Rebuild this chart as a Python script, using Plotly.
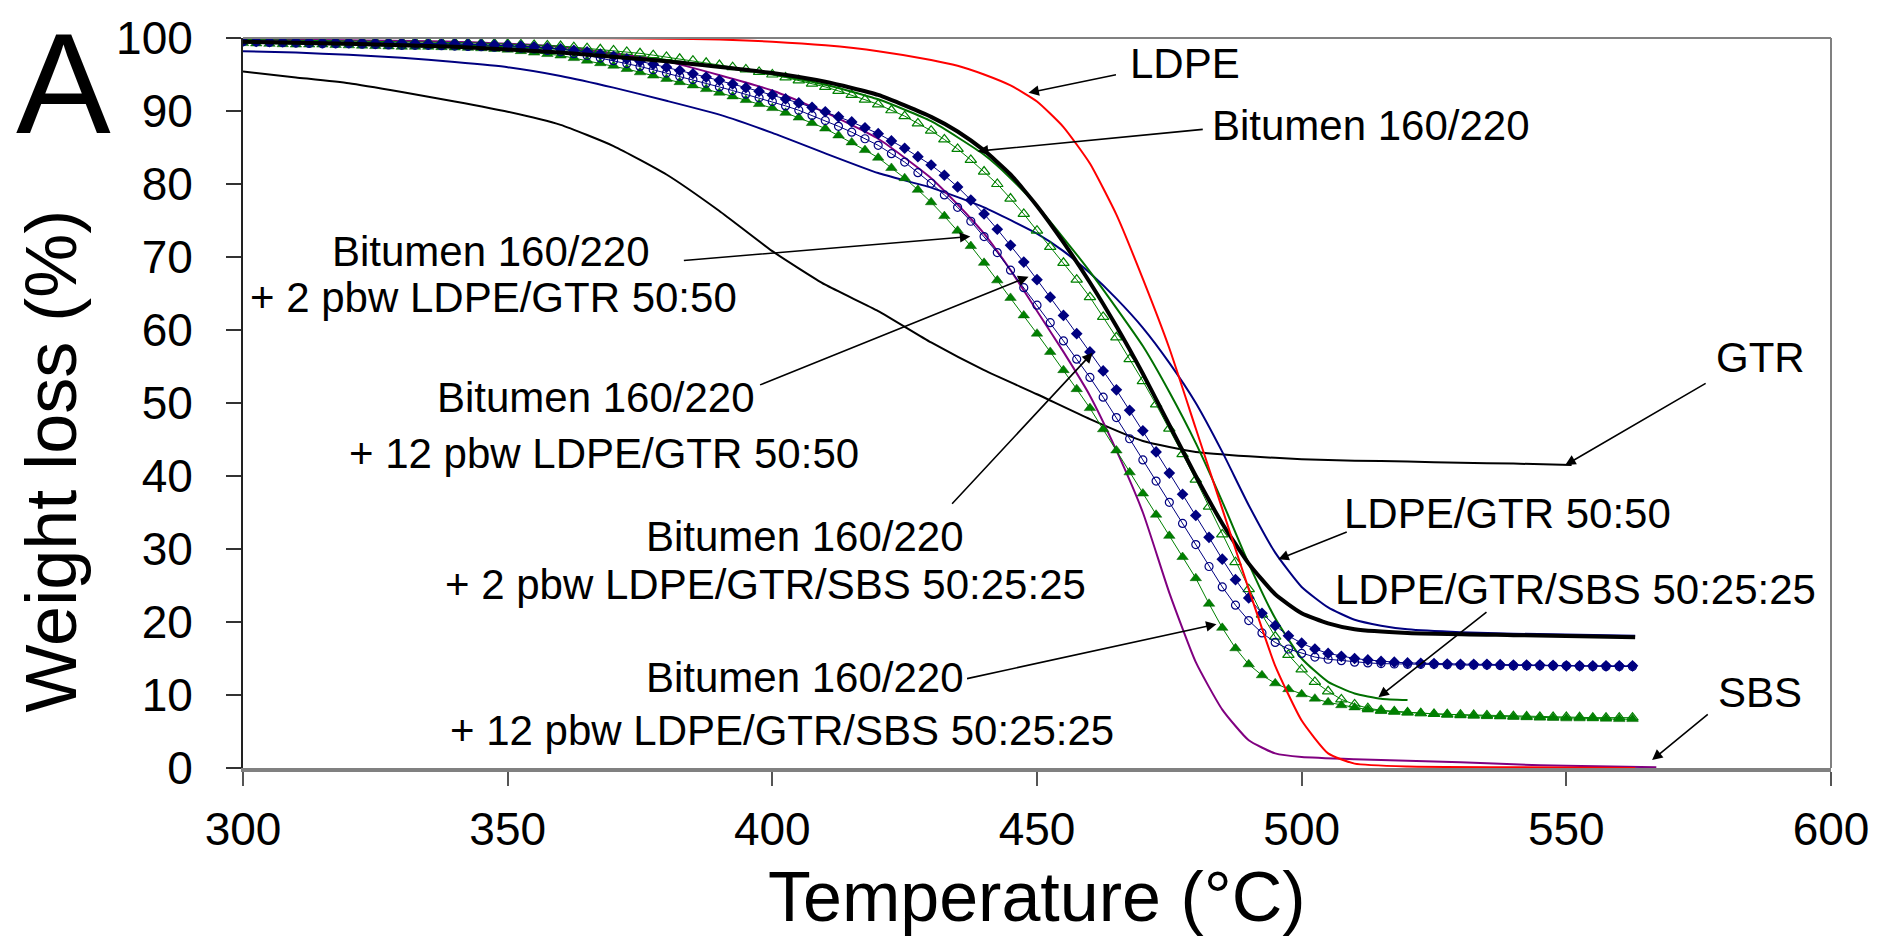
import plotly.graph_objects as go

# ---------------- data ----------------
XM = [300, 302.5, 305, 307.5, 310, 312.5, 315, 317.5, 320, 322.5, 325, 327.5, 330, 332.5, 335, 337.5,
      340, 342.5, 345, 347.5, 350, 352.5, 355, 357.5, 360, 362.5, 365, 367.5, 370, 372.5, 375, 377.5,
      380, 382.5, 385, 387.5, 390, 392.5, 395, 397.5, 400, 402.5, 405, 407.5, 410, 412.5, 415, 417.5,
      420, 422.5, 425, 427.5, 430,
      432.5, 435, 437.5, 440, 442.5, 445, 447.5, 450, 452.5, 455, 457.5, 460, 462.5, 465, 467.5, 470,
      472.5, 475, 477.5, 480, 482.5, 485, 487.5, 490, 492.5, 495, 497.5, 500, 502.5, 505, 507.5, 510,
      512.5, 515,
      517.5, 520, 522.5, 525, 527.5, 530, 532.5, 535, 537.5, 540, 542.5, 545, 547.5, 550, 552.5, 555,
      557.5, 560, 562.5]

bit_2_ldpe_gtr = [99.3, 99.25, 99.2, 99.15, 99.1, 99.1, 99.1, 99.05, 99.0, 98.95, 98.9, 98.85, 98.8, 98.8,
                  98.8, 98.75, 98.7, 98.65, 98.6, 98.5, 98.4, 98.2, 98.0, 97.8, 97.6, 97.25, 96.9, 96.55,
                  96.2, 95.75, 95.3, 94.85, 94.4, 93.95, 93.5, 93.0, 92.5, 92.0, 91.5, 90.95, 90.4, 89.75,
                  89.1, 88.35, 87.6, 86.65, 85.7, 84.65, 83.6, 82.2, 80.8, 79.2, 77.5,
                  75.6, 73.6, 71.5, 69.2, 66.8, 64.4, 62.0, 59.5, 57.0, 54.5, 51.9, 49.3, 46.4, 43.5, 40.5,
                  37.6, 34.7, 31.8, 28.9, 26.0, 22.5, 19.2, 16.4, 14.2, 12.7, 11.6, 10.8, 10.1, 9.5, 9.0,
                  8.6, 8.3, 8.0, 7.8,
                  7.7, 7.6, 7.5, 7.4, 7.3, 7.2, 7.15, 7.1, 7.05, 7.0, 6.95, 6.9, 6.85, 6.8, 6.8, 6.8,
                  6.75, 6.7, 6.7]

bit_12_ldpe_gtr = [99.5, 99.45, 99.4, 99.35, 99.3, 99.25, 99.2, 99.2, 99.2, 99.15, 99.1, 99.05, 99.0, 99.0,
                   99.0, 98.95, 98.9, 98.85, 98.8, 98.75, 98.7, 98.6, 98.5, 98.3, 98.1, 97.85, 97.6, 97.25,
                   96.9, 96.5, 96.1, 95.65, 95.2, 94.75, 94.3, 93.8, 93.3, 92.8, 92.3, 91.8, 91.3, 90.7,
                   90.1, 89.4, 88.7, 87.9, 87.1, 86.2, 85.3, 84.15, 83.0, 81.55, 80.1,
                   78.5, 76.8, 74.9, 72.8, 70.6, 68.2, 65.8, 63.4, 61.0, 58.5, 56.0, 53.5, 50.8, 48.0, 45.1,
                   42.2, 39.3, 36.4, 33.5, 30.6, 27.6, 24.8, 22.3, 20.2, 18.5, 17.2, 16.3, 15.7, 15.2, 14.9,
                   14.7, 14.5, 14.4, 14.3,
                   14.25, 14.2, 14.2, 14.2, 14.15, 14.1, 14.1, 14.1, 14.05, 14.0, 14.0, 14.0, 14.0, 14.0,
                   13.95, 13.9, 13.9, 13.9, 13.9]

bit_2_sbs = [99.6, 99.55, 99.5, 99.5, 99.5, 99.45, 99.4, 99.4, 99.4, 99.35, 99.3, 99.3, 99.3, 99.25, 99.2,
             99.2, 99.2, 99.15, 99.1, 99.05, 99.0, 98.9, 98.8, 98.65, 98.5, 98.3, 98.1, 97.8, 97.5, 97.15,
             96.8, 96.4, 96.0, 95.55, 95.1, 94.65, 94.2, 93.7, 93.2, 92.7, 92.2, 91.65, 91.1, 90.5, 89.9,
             89.2, 88.5, 87.7, 86.9, 85.9, 84.9, 83.75, 82.6,
             81.2, 79.6, 77.8, 75.9, 73.8, 71.6, 69.3, 66.9, 64.5, 62.0, 59.5, 57.0, 54.4, 51.8, 49.0,
             46.2, 43.3, 40.4, 37.5, 34.6, 31.6, 28.6, 25.8, 23.3, 21.2, 19.5, 18.1, 17.1, 16.3, 15.7,
             15.3, 15.0, 14.8, 14.6,
             14.5, 14.4, 14.35, 14.3, 14.25, 14.2, 14.2, 14.2, 14.15, 14.1, 14.1, 14.1, 14.05, 14.0,
             14.0, 14.0, 14.0, 14.0, 14.0]

bit_12_sbs = [99.8, 99.78, 99.75, 99.72, 99.7, 99.68, 99.65, 99.62, 99.6, 99.58, 99.55, 99.52, 99.5, 99.48,
              99.45, 99.42, 99.4, 99.35, 99.3, 99.25, 99.2, 99.12, 99.05, 98.98, 98.9, 98.75, 98.6, 98.45,
              98.3, 98.1, 97.9, 97.65, 97.4, 97.15, 96.9, 96.6, 96.3, 96.0, 95.7, 95.35, 95.0, 94.6,
              94.2, 93.75, 93.3, 92.75, 92.2, 91.55, 90.9, 90.1, 89.3, 88.3, 87.3,
              86.1, 84.8, 83.3, 81.7, 80.0, 78.0, 75.9, 73.6, 71.4, 69.2, 66.9, 64.5, 61.8, 59.0, 56.0,
              53.0, 49.8, 46.5, 43.0, 39.5, 35.8, 32.0, 28.2, 24.5, 21.0, 18.0, 15.5, 13.5, 11.8, 10.5,
              9.4, 8.7, 8.2, 7.9,
              7.75, 7.6, 7.5, 7.4, 7.35, 7.3, 7.25, 7.2, 7.15, 7.1, 7.05, 7.0, 7.0, 7.0, 6.95, 6.9,
              6.9, 6.9, 6.9]

ldpe_x = [300, 320, 340, 360, 380, 390, 400, 410, 420, 430, 435, 440, 445, 450, 455, 460, 465, 470, 475,
          480, 485, 490, 495, 500, 505, 510, 520, 540, 563]
ldpe_y = [100, 100, 100, 100, 99.9, 99.8, 99.5, 99.0, 98.2, 97.0, 96.2, 95.0, 93.5, 91.3, 87.8, 82.8, 75.8,
          67.0, 57.5, 46.5, 35.5, 24.5, 14.0, 6.5, 2.0, 0.6, 0.2, 0.1, 0.0]

bit_x = [300, 320, 340, 360, 380, 400, 410, 420, 430, 435, 440, 445, 450, 455, 460, 465, 470, 475, 480,
         485, 490, 495, 500, 505, 510, 520, 540, 563]
bit_y = [99.5, 99.2, 98.8, 98.0, 96.8, 95.2, 94.0, 92.2, 89.2, 87.2, 84.6, 81.3, 77.0, 72.0, 66.5, 60.5,
         54.0, 47.0, 40.0, 33.5, 28.0, 23.8, 21.2, 19.8, 19.0, 18.5, 18.2, 17.9]

gtr_x = [300, 310, 320, 330, 340, 350, 360, 370, 380, 390, 400, 410, 420, 430, 440, 450, 460, 470, 480,
         490, 500, 510, 520, 530, 540, 551]
gtr_y = [95.4, 94.6, 93.8, 92.6, 91.3, 89.9, 88.1, 85.2, 81.3, 76.3, 70.8, 66.2, 62.6, 58.3, 54.5, 51.2,
         47.8, 44.8, 43.3, 42.7, 42.3, 42.1, 42.0, 41.8, 41.7, 41.5]

lg_x = [300, 310, 320, 330, 340, 350, 360, 370, 380, 390, 400, 410, 420, 430, 440, 450, 455, 460, 465,
        470, 475, 480, 485, 490, 495, 500, 505, 510, 515, 520, 530, 540, 563]
lg_y = [98.2, 98.0, 97.7, 97.3, 96.7, 96.0, 94.8, 93.2, 91.4, 89.5, 87.0, 84.2, 81.5, 79.5, 76.8, 73.2,
        70.8, 67.8, 64.3, 60.3, 55.5, 50.0, 43.3, 36.0, 29.5, 24.8, 22.0, 20.3, 19.5, 19.0, 18.6, 18.4, 18.1]

lgs_x = [300, 320, 340, 360, 380, 400, 410, 420, 430, 440, 445, 450, 455, 460, 465, 470, 475, 480, 485,
         490, 495, 500, 505, 510, 515, 520]
lgs_y = [99.6, 99.4, 99.1, 98.5, 97.0, 95.0, 93.6, 91.6, 88.6, 84.0, 80.8, 77.0, 72.6, 68.0, 63.0, 57.8,
         51.5, 44.5, 36.5, 28.0, 20.5, 15.0, 11.8, 10.2, 9.5, 9.3]

sbs_x = [300, 340, 360, 380, 400, 410, 420, 430, 435, 440, 445, 450, 455, 460, 465, 470, 475, 480, 485,
         490, 495, 500, 510, 520, 530, 540, 550, 567]
sbs_y = [99.8, 99.5, 98.8, 96.8, 92.8, 89.8, 86.2, 80.8, 77.2, 73.2, 68.2, 62.6, 57.0, 51.0, 43.5, 35.0,
         24.0, 14.5, 8.0, 3.8, 2.0, 1.5, 1.2, 1.0, 0.8, 0.5, 0.3, 0.1]

x_ticks = [300, 350, 400, 450, 500, 550, 600]
y_ticks = [0, 10, 20, 30, 40, 50, 60, 70, 80, 90, 100]

FONT = "Arial, Liberation Sans, sans-serif"

fig = go.Figure()

# thin lines
fig.add_trace(go.Scatter(x=gtr_x, y=gtr_y, mode="lines", name="GTR",
                         line=dict(color="#000000", width=2, shape="spline", smoothing=0.5)))
fig.add_trace(go.Scatter(x=lg_x, y=lg_y, mode="lines", name="LDPE/GTR 50:50",
                         line=dict(color="#000080", width=2, shape="spline", smoothing=0.5)))
fig.add_trace(go.Scatter(x=lgs_x, y=lgs_y, mode="lines", name="LDPE/GTR/SBS 50:25:25",
                         line=dict(color="#007000", width=2, shape="spline", smoothing=0.5)))
fig.add_trace(go.Scatter(x=sbs_x, y=sbs_y, mode="lines", name="SBS",
                         line=dict(color="#800080", width=2, shape="spline", smoothing=0.5)))

# marker series
fig.add_trace(go.Scatter(x=XM, y=bit_2_ldpe_gtr, mode="lines+markers",
                         name="Bitumen 160/220 + 2 pbw LDPE/GTR 50:50",
                         line=dict(color="#008000", width=1),
                         marker=dict(symbol="triangle-up", size=10, color="#008000",
                                     line=dict(color="#006000", width=0.5))))
fig.add_trace(go.Scatter(x=XM, y=bit_12_sbs, mode="lines+markers",
                         name="Bitumen 160/220 + 12 pbw LDPE/GTR/SBS 50:25:25",
                         line=dict(color="#008000", width=1),
                         marker=dict(symbol="triangle-up-open", size=10, color="#008000",
                                     line=dict(width=1.2))))
fig.add_trace(go.Scatter(x=XM, y=bit_12_ldpe_gtr, mode="lines+markers",
                         name="Bitumen 160/220 + 12 pbw LDPE/GTR 50:50",
                         line=dict(color="#000080", width=1),
                         marker=dict(symbol="circle-open", size=8, color="#000080",
                                     line=dict(width=1.2))))
fig.add_trace(go.Scatter(x=XM, y=bit_2_sbs, mode="lines+markers",
                         name="Bitumen 160/220 + 2 pbw LDPE/GTR/SBS 50:25:25",
                         line=dict(color="#000080", width=1),
                         marker=dict(symbol="diamond", size=9, color="#000080")))

fig.add_trace(go.Scatter(x=bit_x, y=bit_y, mode="lines", name="Bitumen 160/220",
                         line=dict(color="#000000", width=4, shape="spline", smoothing=0.5)))
fig.add_trace(go.Scatter(x=ldpe_x, y=ldpe_y, mode="lines", name="LDPE",
                         line=dict(color="#ff0000", width=2, shape="spline", smoothing=0.5)))

# ---------------- annotations ----------------
ann = []


def label(text, x, y, xanchor="center"):
    ann.append(dict(text=text, x=x, y=y, xref="x", yref="y", showarrow=False,
                    xanchor=xanchor, yanchor="middle",
                    font=dict(family=FONT, size=42, color="#000000")))


def arrow(tx, ty, hx, hy):
    ann.append(dict(text="", x=hx, y=hy, ax=tx, ay=ty, xref="x", yref="y", axref="x", ayref="y",
                    showarrow=True, arrowhead=2, arrowsize=1.3, arrowwidth=1.6, arrowcolor="#000000",
                    standoff=0, startstandoff=0))


label("LDPE", 478.0, 96.5)
arrow(465.2, 95.0, 448.4, 92.5)

label("Bitumen 160/220", 482.6, 88.0, xanchor="left")
arrow(481.6, 87.5, 438.8, 84.5)

label("Bitumen 160/220", 346.8, 70.7)
label("+ 2 pbw LDPE/GTR 50:50", 347.4, 64.4)
arrow(383.0, 69.5, 437.4, 72.8)

label("Bitumen 160/220", 366.6, 50.7)
label("+ 12 pbw LDPE/GTR 50:50", 368.2, 43.1)
arrow(397.4, 52.4, 448.4, 67.3)

label("Bitumen 160/220", 406.1, 31.7)
label("+ 2 pbw LDPE/GTR/SBS 50:25:25", 398.7, 25.2)
arrow(433.7, 36.0, 460.5, 56.9)

label("Bitumen 160/220", 406.1, 12.4)
label("+ 12 pbw LDPE/GTR/SBS 50:25:25", 401.8, 5.2)
arrow(436.5, 12.2, 483.9, 19.7)

label("GTR", 586.6, 56.2)
arrow(576.6, 52.8, 549.8, 41.5)

label("LDPE/GTR 50:50", 538.8, 34.8)
arrow(508.8, 32.4, 495.6, 28.6)

label("LDPE/GTR/SBS 50:25:25", 551.8, 24.5)
arrow(535.2, 21.5, 514.5, 9.7)

label("SBS", 586.6, 10.3)
arrow(577.0, 7.5, 566.2, 1.1)

# axis titles and panel letter
ann.append(dict(text="Temperature (°C)", x=0.5, y=-0.177, xref="paper", yref="paper",
                showarrow=False, xanchor="center", yanchor="middle",
                font=dict(family=FONT, size=70, color="#000000")))
ann.append(dict(text="Weight loss (%)", x=-0.1208, y=0.42, xref="paper", yref="paper",
                showarrow=False, xanchor="center", yanchor="middle", textangle=-90,
                font=dict(family=FONT, size=72, color="#000000")))
ann.append(dict(text="A", x=-0.113, y=0.938, xref="paper", yref="paper",
                showarrow=False, xanchor="center", yanchor="middle",
                font=dict(family=FONT, size=142, color="#000000")))

fig.update_layout(
    width=1881, height=938, autosize=False,
    margin=dict(l=243, r=49, t=33, b=170),
    paper_bgcolor="#ffffff", plot_bgcolor="#ffffff",
    showlegend=False,
    annotations=ann,
    shapes=[
        dict(type="line", xref="paper", yref="paper", x0=0, x1=1, y0=1, y1=1,
             line=dict(color="#808080", width=2)),
        dict(type="line", xref="paper", yref="paper", x0=1, x1=1, y0=0, y1=1,
             line=dict(color="#808080", width=2)),
    ],
    xaxis=dict(range=[300, 600], tickvals=x_ticks, ticktext=[str(v) for v in x_ticks],
               showgrid=False, zeroline=False, showline=True, linecolor="#808080", linewidth=4,
               ticks="outside", ticklen=14, tickwidth=2, tickcolor="#555555",
               ticklabelstandoff=4,
               tickfont=dict(family=FONT, size=46, color="#000000")),
    yaxis=dict(range=[0, 100], tickvals=y_ticks, ticktext=[str(v) for v in y_ticks],
               showgrid=False, zeroline=False, showline=True, linecolor="#222222", linewidth=2,
               ticks="outside", ticklen=15, tickwidth=2, tickcolor="#333333",
               ticklabelstandoff=24,
               tickfont=dict(family=FONT, size=46, color="#000000")),
)

fig.write_html("out.html")
